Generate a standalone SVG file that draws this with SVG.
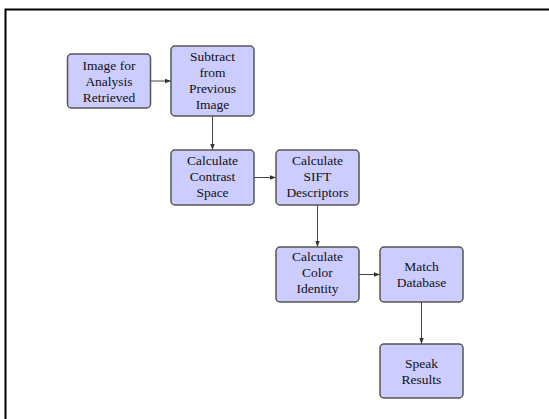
<svg xmlns="http://www.w3.org/2000/svg" width="549" height="419" viewBox="0 0 549 419">
<defs>
<style>
.box{fill:#ccccff;stroke:#555;stroke-width:1.5}
.lbl{font-family:"Liberation Serif","Times New Roman",serif;font-size:13.5px;fill:#111;text-anchor:middle}
.edge{stroke:#444;stroke-width:1;fill:none;marker-end:url(#ah)}
</style>
<marker id="ah" viewBox="0 0 6 6" refX="6" refY="3" markerWidth="6" markerHeight="6" markerUnits="userSpaceOnUse" orient="auto">
<path d="M0,0.8 L6,3 L0,5.2 Z" fill="#333"/>
</marker>
</defs>
<rect width="549" height="419" fill="#fff"/>
<path d="M5.5,419 V9.5 H549" fill="none" stroke="#000" stroke-width="2"/>
<g id="connectors">
<line class="edge" x1="150.5" y1="81" x2="171" y2="81"/>
<line class="edge" x1="212.5" y1="116" x2="212.5" y2="150"/>
<line class="edge" x1="254" y1="177.5" x2="276" y2="177.5"/>
<line class="edge" x1="317.5" y1="205" x2="317.5" y2="247"/>
<line class="edge" x1="359" y1="274.5" x2="380" y2="274.5"/>
<line class="edge" x1="421.5" y1="302" x2="421.5" y2="344"/>
</g>
<g id="n1">
<rect class="box" x="67.5" y="54" width="83" height="54" rx="4"/>
<text class="lbl" x="109" y="70">Image for</text>
<text class="lbl" x="109" y="86">Analysis</text>
<text class="lbl" x="109" y="102">Retrieved</text>
</g>
<g id="n2">
<rect class="box" x="171" y="46" width="83" height="70" rx="4"/>
<text class="lbl" x="212.5" y="61">Subtract</text>
<text class="lbl" x="212.5" y="77">from</text>
<text class="lbl" x="212.5" y="93">Previous</text>
<text class="lbl" x="212.5" y="109">Image</text>
</g>
<g id="n3">
<rect class="box" x="171" y="150" width="83" height="55" rx="4"/>
<text class="lbl" x="212.5" y="165">Calculate</text>
<text class="lbl" x="212.5" y="181">Contrast</text>
<text class="lbl" x="212.5" y="197">Space</text>
</g>
<g id="n4">
<rect class="box" x="276" y="150" width="83" height="55" rx="4"/>
<text class="lbl" x="317.5" y="165">Calculate</text>
<text class="lbl" x="317.5" y="181">SIFT</text>
<text class="lbl" x="317.5" y="197">Descriptors</text>
</g>
<g id="n5">
<rect class="box" x="276" y="247" width="83" height="55" rx="4"/>
<text class="lbl" x="317.5" y="261">Calculate</text>
<text class="lbl" x="317.5" y="277">Color</text>
<text class="lbl" x="317.5" y="293">Identity</text>
</g>
<g id="n6">
<rect class="box" x="380" y="247" width="83" height="55" rx="4"/>
<text class="lbl" x="421.5" y="271">Match</text>
<text class="lbl" x="421.5" y="287">Database</text>
</g>
<g id="n7">
<rect class="box" x="380" y="344" width="83" height="54" rx="4"/>
<text class="lbl" x="421.5" y="368">Speak</text>
<text class="lbl" x="421.5" y="384">Results</text>
</g>
</svg>
